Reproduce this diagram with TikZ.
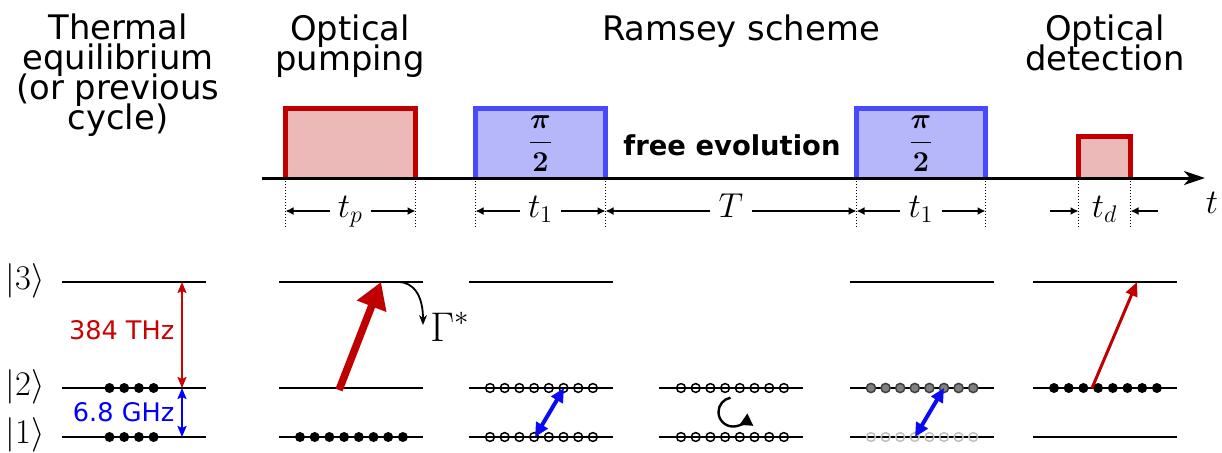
\documentclass[tikz,border=0pt]{standalone}
\usepackage{amsmath}
\usepackage[no-math]{fontspec}
\newfontfamily\dejavu{DejaVu Sans}
\usetikzlibrary{arrows.meta,positioning}
\newcommand\tightlines{\lineskiplimit=-20pt\relax\lineskip=0pt\relax}

\definecolor{pumpred}{RGB}{192,0,0}
\definecolor{pumpfill}{RGB}{236,184,184}
\definecolor{mwblue}{RGB}{72,72,255}
\definecolor{mwfill}{RGB}{182,182,250}
\definecolor{mwline}{RGB}{10,10,245}
\definecolor{thzred}{RGB}{204,0,0}

\begin{document}
\begin{tikzpicture}[x=0.5pt,y=-0.5pt,
  title/.style={font=\dejavu\fontsize{16.9}{15}\selectfont\tightlines,align=center,anchor=base},
  pulse/.style={anchor=south west,inner sep=0pt,outer sep=0pt,font=\fontsize{15}{18}\selectfont},
  border/.style={line width=2.5pt},
  edge/.style={densely dotted,line width=0.5pt},
  span/.style={-{Latex[length=4pt,width=4pt]},line width=0.75pt},
  math/.style={font=\fontsize{18}{20}\selectfont,text height=11pt,text depth=5pt,inner sep=4pt},
  ket/.style={font=\fontsize{18.5}{20}\selectfont},
  freq/.style={font=\dejavu\fontsize{12.8}{14}\selectfont},
  level/.style={line width=1.25pt},
  hollow/.style={line width=0.75pt},
  thin/.style={line width=1pt,{Stealth[length=5.5pt,width=4.5pt,inset=1pt]}-{Stealth[length=5.5pt,width=4.5pt,inset=1pt]}},
  flip/.style={line width=2pt,mwline,{Triangle[length=7pt,width=6.5pt]}-{Triangle[length=7pt,width=6.5pt]}}]

\useasboundingbox (0,0) rectangle (1222,452);

\node[title] (thermal) at (118,129) {Thermal\\equilibrium\\(or previous\\cycle)};
\node[title] (pumping) at (350,70) {Optical\\pumping};
\node[title] (ramsey) at (741,40) {Ramsey scheme};
\node[title] (detection) at (1105,70) {Optical\\detection};

\node[pulse,fill=pumpfill,minimum width=65pt,minimum height=34.75pt] (pump) at (285.5,178) {};
\node[pulse,fill=mwfill,minimum width=65pt,minimum height=34.75pt] (half1) at (475.5,178) {$\boldsymbol{\dfrac{\pi}{2}}$};
\node[pulse,fill=mwfill,minimum width=64.5pt,minimum height=34.75pt] (half2) at (856.5,178) {$\boldsymbol{\dfrac{\pi}{2}}$};
\node[pulse,fill=pumpfill,minimum width=26pt,minimum height=20.75pt] (probe) at (1078.5,178) {};
\foreach \p/\c in {pump/pumpred,half1/mwblue,half2/mwblue,probe/pumpred}
  \draw[border,\c] (\p.south west) |- (\p.north east) -- (\p.south east);
\node[font=\dejavu\bfseries\fontsize{13.7}{16}\selectfont] (free) at (732,145) {free evolution};

\coordinate (t0) at (262,178);
\coordinate (tend) at (1205,178);
\draw[line width=1.5pt,-{Stealth[length=10.5pt,width=7pt,inset=3pt]}] (t0) -- (tend);
\node[font=\fontsize{18}{20}\selectfont,anchor=base] (tlab) at (1212,213) {$t$};

\coordinate (low) at (0,229);
\foreach \p in {pump,half1,half2,probe} {
  \draw[edge] (\p.south west) -- (\p.south west |- low);
  \draw[edge] (\p.south east) -- (\p.south east |- low);
}

\node[math] (tp) at (350.5,211) {$t_p$};
\node[math] (ta) at (540.5,211) {$t_1$};
\node[math] (tT) at (731,211) {$T$};
\node[math] (tb) at (921,211) {$t_1$};
\node[math] (td) at (1104.5,211) {$t_d$};
\draw[span] (tp) -- (tp -| pump.south west);
\draw[span] (tp) -- (tp -| pump.south east);
\draw[span] (ta) -- (ta -| half1.south west);
\draw[span] (ta) -- (ta -| half1.south east);
\draw[span] (tT) -- (tT -| half1.south east);
\draw[span] (tT) -- (tT -| half2.south west);
\draw[span] (tb) -- (tb -| half2.south west);
\draw[span] (tb) -- (tb -| half2.south east);
\coordinate (tdl) at (1050,211);
\coordinate (tdr) at (1158,211);
\draw[span] (tdl) -- (tdl -| probe.south west);
\draw[span] (tdr) -- (tdr -| probe.south east);

\node[ket] (k3) at (25,281) {$|3\rangle$};
\node[ket] (k2) at (25,387) {$|2\rangle$};
\node[ket] (k1) at (25,435) {$|1\rangle$};

\foreach \xl in {62,279,469,850,1033}
  \draw[level] (\xl,282) -- ++(144,0);
\foreach \xl in {62,279,469,659,850,1033}
  \draw[level] (\xl,388) -- ++(144,0) (\xl,437) -- ++(144,0);

\foreach \i in {0,...,3}
  \fill (109.5+14.7*\i,388) circle[radius=2.5pt] (109.5+14.7*\i,437) circle[radius=2.5pt];
\foreach \i in {0,...,7}
  \fill (300+14.7*\i,437) circle[radius=2.5pt];
\foreach \xs in {490,681}
  \foreach \i in {0,...,7}
    \draw[hollow] (\xs+14.7*\i,388) circle[radius=2.2pt] (\xs+14.7*\i,437) circle[radius=2.2pt];
\foreach \i in {0,...,7} {
  \draw[hollow,draw=black!75,fill=black!50] (871+14.6*\i,388) circle[radius=2.3pt];
  \draw[hollow,draw=black!25] (871+14.6*\i,437) circle[radius=2.2pt];
}
\foreach \i in {0,...,7}
  \fill (1054+14.7*\i,388) circle[radius=2.5pt];

\coordinate (thz3) at (182,282);
\coordinate (thz2) at (182,388);
\coordinate (ghz1) at (182,437);
\draw[thin,thzred] (thz3) -- node[pos=0.45,left,freq,text=thzred] (thz) {384 THz} (thz2);
\draw[thin,blue] (thz2) -- node[left,freq,text=blue] (ghz) {6.8 GHz} (ghz1);

\coordinate (pa) at (339,390);
\coordinate (pb) at (381,282);
\draw[pumpred,line width=3.75pt,-{Triangle[length=13pt,width=15pt]}] (pa) -- (pb);
\coordinate (gs) at (398,282);
\coordinate (ge) at (423,325);
\draw[line width=0.9pt,-{Stealth[length=5pt,width=4pt]}] (gs) .. controls (414,282) and (423,296) .. (ge);
\node[font=\fontsize{21}{22}\selectfont,anchor=base west,inner sep=0pt] (gam) at (430,341) {$\Gamma^*$};

\coordinate (r1a) at (535,437);
\coordinate (r1b) at (564,388);
\draw[flip] (r1a) -- (r1b);
\coordinate (spin) at (730.5,397.7);
\coordinate (spinend) at (747.4,413.3);
\draw[line width=1.2pt,-{Triangle[length=6pt,width=6.5pt]}] (spin)
  .. controls (723.6,398.9) and (718.5,405) .. (718.5,412)
  .. controls (718.5,420) and (725,426.5) .. (733,426.5)
  .. controls (740.5,426.5) and (746.8,420.8) .. (spinend);
\coordinate (r2a) at (915,437);
\coordinate (r2b) at (944,388);
\draw[flip] (r2a) -- (r2b);

\coordinate (da) at (1092,388);
\coordinate (db) at (1137,282);
\draw[pumpred,line width=1.5pt,-{Triangle[length=7pt,width=6pt]}] (da) -- (db);
\end{tikzpicture}
\end{document}
